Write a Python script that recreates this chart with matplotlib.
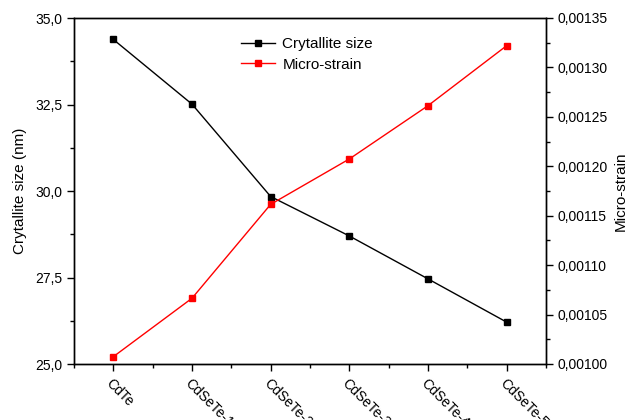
import matplotlib
matplotlib.use("Agg")
import matplotlib.pyplot as plt
from matplotlib.ticker import FuncFormatter, MultipleLocator, FixedLocator

plt.rcParams['font.family'] = ['Liberation Sans', 'DejaVu Sans']

categories = ["CdTe", "CdSeTe-1", "CdSeTe-2", "CdSeTe-3", "CdSeTe-4", "CdSeTe-5"]
crystallite_size = [34.38, 32.51, 29.84, 28.70, 27.46, 26.21]
micro_strain = [0.0010074, 0.0010665, 0.0011615, 0.0012074, 0.0012613, 0.001322]

fig = plt.figure(figsize=(6.3, 4.2), dpi=100)
ax = fig.add_axes([74/630, 56/420, (546-74)/630, (364-18)/420])
ax2 = ax.twinx()

x = list(range(len(categories)))
l1, = ax.plot(x, crystallite_size, color='black', lw=1, marker='s', ms=5, label='Crytallite size')
l2, = ax2.plot(x, micro_strain, color='red', lw=1, marker='s', ms=5, label='Micro-strain')

ax.set_xlim(-0.5, 5.5)
ax.set_ylim(25, 35)
ax2.set_ylim(0.00100, 0.00135)

ax.set_xticks(x)
ax.set_xticklabels(categories, rotation=-45, ha='left', va='top', rotation_mode='anchor', fontsize=10)
ax.xaxis.set_minor_locator(FixedLocator([i + 0.5 for i in range(-1, 6)]))

ax.yaxis.set_major_locator(MultipleLocator(2.5))
ax.yaxis.set_minor_locator(MultipleLocator(1.25))
ax.yaxis.set_major_formatter(FuncFormatter(lambda v, p: f"{v:.1f}".replace('.', ',')))
ax2.yaxis.set_major_locator(MultipleLocator(0.00005))
ax2.yaxis.set_minor_locator(MultipleLocator(0.000025))
ax2.yaxis.set_major_formatter(FuncFormatter(lambda v, p: f"{v:.5f}".replace('.', ',')))

for a in (ax, ax2):
    a.tick_params(which='major', direction='out', length=5, width=1, labelsize=10)
    a.tick_params(which='minor', direction='out', length=3, width=1)
    for s in a.spines.values():
        s.set_linewidth(1)

ax.set_ylabel("Crytallite size (nm)", fontsize=11, labelpad=6)
ax2.set_ylabel("Micro-strain", fontsize=11, rotation=90, labelpad=4)

leg = ax2.legend(handles=[l1, l2], loc='upper left', bbox_to_anchor=(0.325, 0.985),
                 frameon=False, fontsize=11, handlelength=2.2, handletextpad=0.5,
                 labelspacing=0.45, borderaxespad=0.5)

fig.savefig("out.png", dpi=100)
